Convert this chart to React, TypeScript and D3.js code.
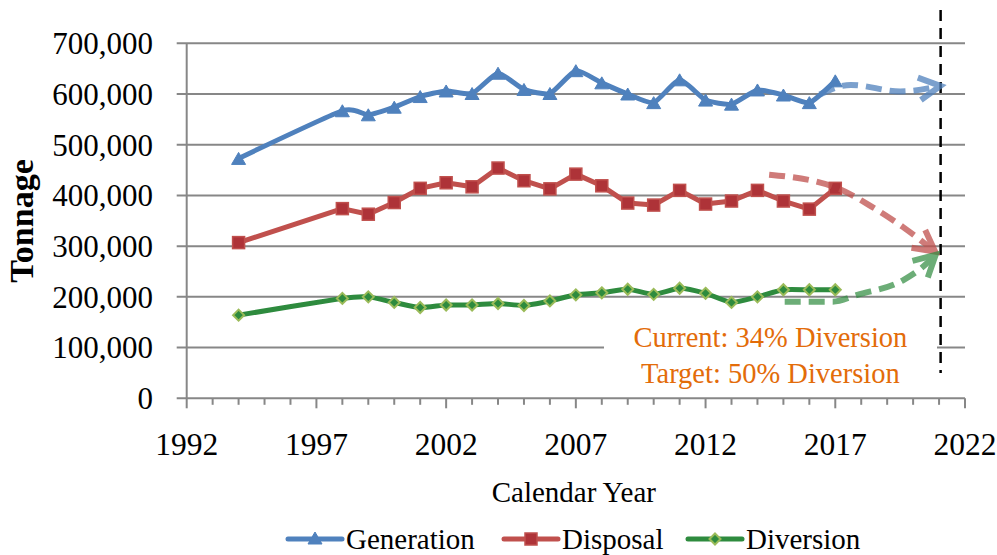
import React from "react";
import * as d3 from "d3";

const years = [1994, 1998, 1999, 2000, 2001, 2002, 2003, 2004, 2005, 2006, 2007, 2008, 2009, 2010, 2011, 2012, 2013, 2014, 2015, 2016, 2017];
const generation = [473000, 567000, 559000, 574000, 595000, 606000, 601000, 641000, 609000, 601000, 646000, 622000, 600000, 583000, 628000, 588000, 580000, 608000, 598000, 583000, 626000];
const disposal = [307000, 374000, 363000, 386000, 414000, 425000, 417000, 454000, 429000, 413000, 442000, 419000, 385000, 381000, 410000, 383000, 389000, 410000, 389000, 373000, 414000];
const diversion = [164000, 197000, 200000, 189000, 179000, 184000, 184000, 187000, 183000, 192000, 204000, 208000, 215000, 205000, 217000, 207000, 189000, 200000, 214000, 214000, 214000];

const yTicks = [0, 100000, 200000, 300000, 400000, 500000, 600000, 700000];
const xMajorTicks = [1992, 1997, 2002, 2007, 2012, 2017, 2022];
const xMinorTicks = d3.range(1992, 2023);

const genProjection: [number, number][] = [[2016.4, 599000], [2017.6, 618000], [2019.5, 605000], [2021.05, 616000]];
const dispProjection: [number, number][] = [[2014.45, 441000], [2017.1, 414000], [2018.4, 378000], [2019.6, 338000], [2020.85, 289000]];
const divProjection: [number, number][] = [[2015.05, 190500], [2016.9, 190500], [2017.85, 204000], [2019.64, 233700], [2020.3, 256000], [2020.87, 283000]];
const targetYear = 2021.06;

const annotationLines = ["Current: 34% Diversion", "Target: 50% Diversion"];
const legendLabels = ["Generation", "Disposal", "Diversion"];

const BLUE = "#4F81BD";
const RED = "#C0504D";
const RED_DARK = "#AE3338";
const GREEN = "#2E8B3E";
const GREEN_LIGHT = "#9BBB59";
const GRID = "#878787";
const ORANGE = "#E36C09";
const FONT = "'Liberation Serif', 'Times New Roman', serif";

const W = 997;
const H = 555;

const x = d3.scaleLinear().domain([1992, 2022]).range([186.7, 965]);
const y = d3.scaleLinear().domain([0, 700000]).range([398.3, 43.3]);

function tri(cx: number, cy: number, w = 14, h = 12) {
  return `M${cx},${cy - h / 2}L${cx + w / 2},${cy + h / 2}L${cx - w / 2},${cy + h / 2}Z`;
}
function diamond(cx: number, cy: number, r = 5.5) {
  return `M${cx},${cy - r}L${cx + r},${cy}L${cx},${cy + r}L${cx - r},${cy}Z`;
}

function Arrow({ pts, color, opacity }: { pts: [number, number][]; color: string; opacity: number }) {
  const line = d3
    .line<[number, number]>()
    .x((d) => x(d[0]))
    .y((d) => y(d[1]))
    .curve(d3.curveMonotoneX);
  const n = pts.length;
  const tx = x(pts[n - 1][0]);
  const ty = y(pts[n - 1][1]);
  const px = x(pts[n - 2][0]);
  const py = y(pts[n - 2][1]);
  const ang = Math.atan2(ty - py, tx - px);
  const L = 24;
  const half = (28 * Math.PI) / 180;
  const a1 = [tx - L * Math.cos(ang - half), ty - L * Math.sin(ang - half)];
  const a2 = [tx - L * Math.cos(ang + half), ty - L * Math.sin(ang + half)];
  return (
    <g opacity={opacity}>
      <path d={line(pts) || ""} fill="none" stroke={color} strokeWidth={6} strokeDasharray="16 8" />
      <path d={`M${a1[0]},${a1[1]}L${tx},${ty}L${a2[0]},${a2[1]}`} fill="none" stroke={color} strokeWidth={6} strokeLinejoin="miter" />
    </g>
  );
}

export default function App() {
  const smooth = d3
    .line<number>()
    .x((_, i) => x(years[i]))
    .y((d) => y(d))
    .curve(d3.curveCardinal.tension(0.45));
  const straight = d3
    .line<number>()
    .x((_, i) => x(years[i]))
    .y((d) => y(d));

  const x0 = x.range()[0];
  const x1 = x.range()[1];
  const yb = y(0);

  const legendX = [288, 504, 688];
  const legendY = 539;

  return (
    <svg width={W} height={H} style={{ position: "absolute", left: 0, top: 0, background: "#fff" }} fontFamily={FONT}>
      <rect x={0} y={0} width={W} height={H} fill="#fff" />
      {yTicks.map((t) => (
        <line key={"g" + t} x1={x0 - 10} x2={x1} y1={y(t)} y2={y(t)} stroke={GRID} strokeWidth={2} />
      ))}
      <line x1={x0} x2={x0} y1={y(700000)} y2={yb} stroke={GRID} strokeWidth={2} />
      {xMinorTicks.map((t) => (
        <line key={"m" + t} x1={x(t)} x2={x(t)} y1={yb} y2={yb + (xMajorTicks.includes(t) ? 10 : 6.5)} stroke={GRID} strokeWidth={2} />
      ))}
      {yTicks.map((t) => (
        <text key={"yl" + t} x={153} y={y(t)} dy="0.35em" textAnchor="end" fontSize={31} fill="#000">
          {d3.format(",")(t)}
        </text>
      ))}
      {xMajorTicks.map((t) => (
        <text key={"xl" + t} x={x(t)} y={455} textAnchor="middle" fontSize={31.5} fill="#000">
          {t}
        </text>
      ))}
      <text x={(x0 + x1) / 2 - 2} y={502} textAnchor="middle" fontSize={29} fill="#000">
        Calendar Year
      </text>
      <text transform="translate(33,221) rotate(-90)" textAnchor="middle" fontSize={34} fontWeight="bold" fill="#000">
        Tonnage
      </text>

      <rect x={604} y={318} width={333} height={75} fill="#fff" />
      {annotationLines.map((s, i) => (
        <text key={s} x={x(2014.5)} y={347 + i * 36} textAnchor="middle" fontSize={28.5} fill={ORANGE}>
          {s}
        </text>
      ))}

      <line x1={x(targetYear)} x2={x(targetYear)} y1={10} y2={373} stroke="#000" strokeWidth={2.5} strokeDasharray="11 7" />

      <path d={smooth(generation) || ""} fill="none" stroke={BLUE} strokeWidth={5} strokeLinejoin="round" strokeLinecap="round" />
      <path d={straight(disposal) || ""} fill="none" stroke={RED} strokeWidth={5} strokeLinejoin="round" strokeLinecap="round" />
      <path d={smooth(diversion) || ""} fill="none" stroke={GREEN} strokeWidth={5} strokeLinejoin="round" strokeLinecap="round" />

      {generation.map((v, i) => (
        <path key={"gt" + i} d={tri(x(years[i]), y(v))} fill={BLUE} stroke={BLUE} strokeWidth={1} />
      ))}
      {disposal.map((v, i) => (
        <rect key={"ds" + i} x={x(years[i]) - 6} y={y(v) - 6} width={12} height={12} fill={RED_DARK} stroke={RED} strokeWidth={1.5} />
      ))}
      {diversion.map((v, i) => (
        <path key={"dv" + i} d={diamond(x(years[i]), y(v))} fill={GREEN} stroke={GREEN_LIGHT} strokeWidth={2} />
      ))}

      <Arrow pts={genProjection} color={BLUE} opacity={0.75} />
      <Arrow pts={dispProjection} color={RED} opacity={0.75} />
      <Arrow pts={divProjection} color={GREEN} opacity={0.7} />

      {legendLabels.map((lab, i) => {
        const lx = legendX[i];
        const cx = lx + 27;
        const color = [BLUE, RED, GREEN][i];
        return (
          <g key={lab}>
            <line x1={lx} x2={lx + 54} y1={legendY} y2={legendY} stroke={color} strokeWidth={5} strokeLinecap="round" />
            {i === 0 && <path d={tri(cx, legendY - 1)} fill={BLUE} stroke={BLUE} />}
            {i === 1 && <rect x={cx - 6} y={legendY - 6} width={12} height={12} fill={RED_DARK} stroke={RED} strokeWidth={1.5} />}
            {i === 2 && <path d={diamond(cx, legendY)} fill={GREEN} stroke={GREEN_LIGHT} strokeWidth={2} />}
            <text x={lx + 58} y={legendY} dy="0.35em" fontSize={29} fill="#000">
              {lab}
            </text>
          </g>
        );
      })}
    </svg>
  );
}
